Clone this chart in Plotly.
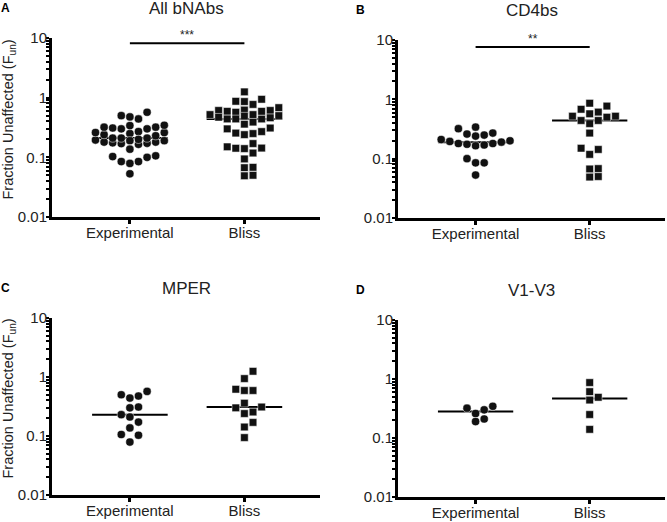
import numpy as np
import plotly.graph_objects as go

# ---------------- data ----------------
categories = ["Experimental", "Bliss"]
panel_titles = ["All bNAbs", "CD4bs", "MPER", "V1-V3"]
panel_letters = ["A", "B", "C", "D"]
y_tick_values = [0.01, 0.1, 1, 10]
y_tick_labels = ["0.01", "0.1", "1", "10"]
significance = ["***", "**", "", ""]

all_exp = [0.18, 0.25, 0.165, 0.18, 0.27, 0.20, 0.32, 0.17, 0.24, 0.175, 0.34, 0.19,
           0.26, 0.195, 0.21, 0.10, 0.085, 0.085, 0.053,
           0.44, 0.30, 0.476, 0.23, 0.172, 0.106, 0.50, 0.21, 0.137, 0.103, 0.57, 0.31, 0.079,
           0.26, 0.345, 0.19, 0.30, 0.21, 0.32]
all_bliss = [0.57, 0.86, 0.52, 0.39, 0.61, 0.44, 0.68, 0.44, 0.50, 0.77, 0.52, 0.27,
             0.15, 0.118, 0.143, 0.067, 0.049, 0.068, 0.05,
             1.25, 0.94, 0.62, 0.59, 0.59, 0.30, 0.36, 0.255, 0.31, 0.24, 0.17, 0.142, 0.094,
             0.87, 0.61, 0.44, 0.49, 0.25, 0.14, 0.47, 0.46]

cd4_exp = [0.18, 0.25, 0.165, 0.18, 0.27, 0.20, 0.32, 0.17, 0.24, 0.175, 0.34, 0.19,
           0.26, 0.195, 0.21, 0.10, 0.085, 0.085, 0.053]
cd4_bliss = [0.57, 0.86, 0.52, 0.39, 0.61, 0.44, 0.68, 0.44, 0.50, 0.77, 0.52, 0.27,
             0.15, 0.118, 0.143, 0.067, 0.049, 0.068, 0.05]

mper_exp = [0.44, 0.30, 0.476, 0.23, 0.172, 0.106, 0.50, 0.21, 0.137, 0.103, 0.57, 0.31, 0.079]
mper_bliss = [1.25, 0.94, 0.62, 0.59, 0.59, 0.30, 0.36, 0.255, 0.31, 0.24, 0.17, 0.142, 0.094]

v13_exp = [0.26, 0.345, 0.19, 0.30, 0.21, 0.32]
v13_bliss = [0.87, 0.61, 0.44, 0.49, 0.25, 0.14]

panels_exp = [all_exp, cd4_exp, mper_exp, v13_exp]
panels_bliss = [all_bliss, cd4_bliss, mper_bliss, v13_bliss]
sig_level = [8.2, 7.6]

# ---------------- layout constants ----------------
W, H = 667, 522
# panel plot boxes in pixels: left, right, top, bottom
boxes = [(52, 320, 38, 217), (398, 665, 40, 218), (52, 320, 318, 495), (398, 665, 320, 497)]
XR = [-0.68, 1.66]
YR = [-2, 1]
FONT = "Liberation Sans, Arial, Helvetica, sans-serif"
TXT = "#222222"
STEP = 8.6      # px between columns
DIAM = 8.0      # collision diameter px

# unlabelled minor log ticks (2..9 within each decade)
minor_vals = [v * m for v in y_tick_values[:-1] for m in range(2, 10)]


def swarm_offsets(values, px_per_unit, px_per_decade, kmax=4):
    ys = np.log10(np.asarray(values, float)) * px_per_decade
    order = np.argsort(ys, kind="stable")
    px, py = [], []
    offs = np.zeros(len(ys))
    cands = [0]
    for k in range(1, kmax + 1):
        cands += [k, -k]
    for i in order:
        best, best_d = 0, -1.0
        for k in cands:
            x = k * STEP
            if px:
                d = float(np.min(np.hypot(np.array(px) - x, np.array(py) - ys[i])))
            else:
                d = np.inf
            if d >= DIAM * 0.97:
                best = x
                break
            if d > best_d:
                best_d, best = d, x
        px.append(best)
        py.append(ys[i])
        offs[i] = best / px_per_unit
    return offs


fig = go.Figure()
annotations = []

for p in range(4):
    L, R, T, B = boxes[p]
    sfx = "" if p == 0 else str(p + 1)
    xa, ya = "x" + sfx, "y" + sfx
    px_per_unit = (R - L) / (XR[1] - XR[0])
    px_per_decade = (B - T) / (YR[1] - YR[0])

    groups = [(panels_exp[p], "circle", 8.2), (panels_bliss[p], "square", 7.6)]
    # median lines
    mx, my = [], []
    for gi, (vals, sym, sz) in enumerate(groups):
        med = float(np.median(vals))
        mx += [gi - 0.33, gi + 0.33, None]
        my += [med, med, None]
    fig.add_trace(go.Scatter(x=mx, y=my, mode="lines", line=dict(color="black", width=2),
                             xaxis=xa, yaxis=ya, showlegend=False, hoverinfo="skip"))
    for gi, (vals, sym, sz) in enumerate(groups):
        offs = swarm_offsets(vals, px_per_unit, px_per_decade)
        fig.add_trace(go.Scatter(
            x=gi + offs, y=vals, mode="markers",
            marker=dict(symbol=sym, size=sz, color="#111111",
                        line=dict(color="white", width=0.5)),
            xaxis=xa, yaxis=ya, showlegend=False, name=categories[gi]))

    # significance bar
    if significance[p]:
        lvl = sig_level[p]
        fig.add_trace(go.Scatter(x=[0, 1], y=[lvl, lvl], mode="lines",
                                 line=dict(color="black", width=2),
                                 xaxis=xa, yaxis=ya, showlegend=False, hoverinfo="skip"))
        annotations.append(dict(x=0.5, y=np.log10(lvl), xref=xa, yref=ya, text=significance[p],
                                showarrow=False, yanchor="bottom", yshift=-1,
                                font=dict(size=12, color=TXT, family=FONT)))

    xdom = [L / W, R / W]
    ydom = [1 - B / H, 1 - T / H]
    fig.update_layout(**{
        "xaxis" + sfx: dict(domain=xdom, range=XR, anchor=ya, tickvals=[0, 1], ticktext=categories,
                            showline=True, linecolor="black", linewidth=3, ticks="outside",
                            ticklen=4, tickwidth=3, tickcolor="black", showgrid=False,
                            zeroline=False, automargin=False, ticklabelstandoff=-4,
                            tickfont=dict(size=15, color=TXT, family=FONT)),
        "yaxis" + sfx: dict(domain=ydom, range=YR, type="log", anchor=xa,
                            tickvals=y_tick_values, ticktext=y_tick_labels,
                            showline=True, linecolor="black", linewidth=3,
                            ticks="outside", ticklen=3, tickwidth=2, tickcolor="black",
                            minor=dict(tickmode="array", tickvals=minor_vals, ticks="outside",
                                       ticklen=3, tickwidth=2, tickcolor="black",
                                       showgrid=False),
                            showgrid=False, zeroline=False, automargin=False,
                            ticklabelstandoff=-4,
                            tickfont=dict(size=15, color=TXT, family=FONT)),
    })

    # panel title
    annotations.append(dict(x=(L + R) / 2 / W, y=1 - (T - 30) / H,
                            xref="paper", yref="paper", text=panel_titles[p], showarrow=False,
                            xanchor="center", yanchor="middle",
                            font=dict(size=17, color=TXT, family=FONT)))
    # panel letter
    lx = 5 if p % 2 == 0 else 360
    annotations.append(dict(x=lx / W, y=1 - (T - 30) / H, xref="paper", yref="paper",
                            text="<b>" + panel_letters[p] + "</b>", showarrow=False,
                            xanchor="center", yanchor="middle",
                            font=dict(size=12, color="black", family=FONT)))
    # y axis title for left panels
    if p % 2 == 0:
        annotations.append(dict(x=8 / W, y=1 - ((T + B) / 2 - 8) / H, xref="paper", yref="paper",
                                text="Fraction Unaffected (F<sub>un</sub>)", textangle=-90,
                                showarrow=False, xanchor="center", yanchor="middle",
                                font=dict(size=14.5, color=TXT, family=FONT)))

fig.update_layout(template="none", width=W, height=H, margin=dict(l=0, r=0, t=0, b=0),
                  paper_bgcolor="white", plot_bgcolor="white",
                  annotations=annotations, font=dict(family=FONT, color=TXT))

fig.write_html("out.html", config={"displayModeBar": False},
               post_script="document.body.style.margin='0';document.body.style.overflow='hidden';")
